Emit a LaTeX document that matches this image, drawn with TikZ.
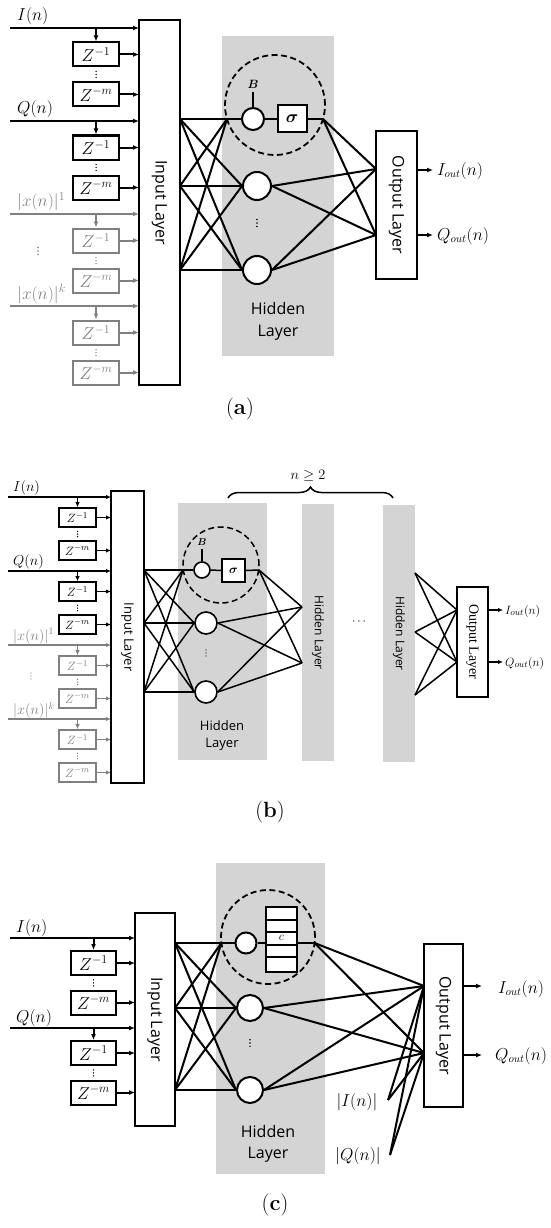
\documentclass[tikz,border=0pt]{standalone}
\usepackage{fontspec}
\newfontfamily\sfl{Open Sans}
\newfontfamily\srl{Liberation Serif}
\usetikzlibrary{arrows.meta,decorations.pathreplacing,calc}
\definecolor{gr}{RGB}{128,128,128}
\definecolor{hid}{RGB}{212,212,212}
\newcommand\fs[1]{\fontsize{#1}{#1}\selectfont}
% vertical dots: coordinate, spacing, radius, colour
\newcommand\vdts[4]{\foreach \k in {-1,0,1}{\fill[#4] ($(#1)+(0,\k*#2)$) circle (#3);}}
% delay group: prefix, line y, colour, label
\newcommand\dgroup[4]{%
  \coordinate (#1s) at (\xs,#2);
  \coordinate (#1e) at (\xin,#2);
  \draw[conn,#3,arr] (#1s) -- (#1e);
  \node[lbl,text=#3,anchor=west] (#1lab) at (\lx,{#2-\lo}) {#4};
  \node[zb,draw=#3,text=#3] (#1a) at ({(\xl+\xr)/2},{#2+(\oA+\oB)/2}) {$Z^{-1}$};
  \node[zb,draw=#3,text=#3] (#1b) at ({(\xl+\xr)/2},{#2+(\oC+\oD)/2}) {$Z^{-m}$};
  \draw[conn,#3,arr] (#1a.north |- #1s) -- (#1a.north);
  \draw[conn,#3,arr] (#1a.east) -- (#1a.east -| #1e);
  \draw[conn,#3,arr] (#1b.east) -- (#1b.east -| #1e);
  \coordinate (#1d) at ($(#1a.south)!0.5!(#1b.north)$);
  \vdts{#1d}{\dsp}{0.75pt}{#3}
}
\begin{document}
\begin{tikzpicture}[x=1pt,y=-1pt,
  lay/.style={draw,rotate=-90,inner sep=0,fill=white},
  neu/.style={circle,draw,fill=white,inner sep=0},
  sig/.style={draw,fill=white,inner sep=0},
  dcirc/.style={circle,draw,dash pattern=on 6pt off 3.5pt,inner sep=0}]
\useasboundingbox (0,0) rectangle (550,1228);

%%%%%%%%%%%%%%%%%%%%%%%% (a)
\begin{scope}[zb/.style={draw,line width=2pt,minimum width=46pt,minimum height=24pt,inner sep=0,fill=white,font=\fs{17}},
  lbl/.style={font=\fs{17},inner sep=0},
  arr/.style={-{Latex[length=6pt,width=5pt]}},
  conn/.style={line width=2pt},
  net/.style={line width=2pt}]
\def\xs{10}\def\xl{72}\def\xr{120}\def\xin{139}\def\oA{13}\def\oB{40}\def\oC{53}\def\oD{80}\def\lo{12}\def\lx{17}\def\dsp{3}
\dgroup{aI}{28}{black}{$I(n)$}
\dgroup{aQ}{121}{black}{$Q(n)$}
\dgroup{aX}{214}{gr}{$|x(n)|^{1}$}
\dgroup{aK}{306}{gr}{$|x(n)|^{k}$}
\coordinate (avd) at (38,251); \vdts{avd}{3.5}{0.8pt}{gr}
\node[lay,line width=2pt,minimum width=365pt,minimum height=41pt,font=\sfl\fs{16}] (ain) at (159.5,202.5) {Input Layer};
\fill[hid] (222,36) rectangle (334,356);
\node[align=center,inner sep=0,font=\sfl\fontsize{16}{22}\selectfont] (ahid) at (278,321) {Hidden\\Layer};
\node[dcirc,line width=1.8pt,minimum size=100pt] (adc) at (275,105) {};
\coordinate (ai1) at (180,119); \coordinate (ai2) at (180,186); \coordinate (ai3) at (180,270);
\coordinate (ah1) at (227,119); \coordinate (ah4) at (323,119);
\node[neu,line width=2pt,minimum size=28pt] (an2) at (257,186) {};
\node[neu,line width=2pt,minimum size=28pt] (an3) at (257,270) {};
\coordinate (adots) at (257,223); \vdts{adots}{3.5}{0.8pt}{black}
\foreach \s in {ai1,ai2,ai3}{\foreach \t in {ah1,an2.west,an3.west}{\draw[net] (\s) -- (\t);}}
\node[neu,line width=2pt,minimum size=22pt] (an1) at (253,119) {};
\coordinate (aBt) at (253,92);
\draw[net] (an1.north) -- (aBt);
\node[inner sep=0,font=\fs{12}\boldmath] (aB) at (253,84) {$B$};
\node[sig,line width=2pt,minimum width=29pt,minimum height=27pt,font=\fs{16}\boldmath] (asg) at (292,119) {$\sigma$};
\draw[net] (ah1) -- (an1.west);
\draw[net] (an1.east) -- (asg.west);
\draw[net] (asg.east) -- (ah4);
\node[lay,line width=2pt,minimum width=148pt,minimum height=41pt,font=\sfl\fs{16}] (aout) at (396.5,205) {Output Layer};
\coordinate (ao1) at (376,169); \coordinate (ao2) at (376,235);
\foreach \s in {ah4,an2.east,an3.east}{\foreach \t in {ao1,ao2}{\draw[net] (\s) -- (\t);}}
\coordinate (aoa) at (417,170); \coordinate (aob) at (433,170);
\coordinate (aoc) at (417,235); \coordinate (aod) at (433,235);
\draw[net,arr] (aoa) -- (aob);
\draw[net,arr] (aoc) -- (aod);
\node[anchor=west,inner sep=0,font=\fs{16}] (aIo) at (437,171) {$I_{out}(n)$};
\node[anchor=west,inner sep=0,font=\fs{16}] (aQo) at (437,236) {$Q_{out}(n)$};
\node[font=\fs{22}] (capa) at (240,409) {(\textbf{a})};
\end{scope}

%%%%%%%%%%%%%%%%%%%%%%%% (b)
\begin{scope}[zb/.style={draw,line width=1.7pt,minimum width=37pt,minimum height=19pt,inner sep=0,fill=white,font=\fs{13}},
  lbl/.style={font=\fs{14},inner sep=0},
  arr/.style={-{Latex[length=5pt,width=4.5pt]}},
  conn/.style={line width=1.7pt},
  net/.style={line width=1.5pt}]
\def\xs{8}\def\xl{58}\def\xr{97}\def\xin{111}\def\oA{10}\def\oB{31}\def\oC{43}\def\oD{64}\def\lo{9}\def\lx{13}\def\dsp{2.6}
\dgroup{bI}{497}{black}{$I(n)$}
\dgroup{bQ}{571}{black}{$Q(n)$}
\dgroup{bX}{645}{gr}{$|x(n)|^{1}$}
\dgroup{bK}{719}{gr}{$|x(n)|^{k}$}
\coordinate (bvd) at (31,676); \vdts{bvd}{3}{0.7pt}{gr}
\node[lay,line width=1.8pt,minimum width=292pt,minimum height=33pt,font=\sfl\fs{13}] (bin) at (127.5,637) {Input Layer};
\fill[hid] (178,503) rectangle (267,760);
\node[align=center,inner sep=0,font=\sfl\fontsize{13}{17}\selectfont] (bhid) at (222,735.5) {Hidden\\Layer};
\node[dcirc,line width=1.5pt,minimum size=76pt] (bdc) at (221,565) {};
\coordinate (bi1) at (144,570); \coordinate (bi2) at (144,623); \coordinate (bi3) at (144,692);
\coordinate (bh1) at (183,570); \coordinate (bh4) at (259,570);
\node[neu,line width=1.6pt,minimum size=22pt] (bn2) at (206,623) {};
\node[neu,line width=1.6pt,minimum size=22pt] (bn3) at (206,692) {};
\coordinate (bdots) at (206,653); \vdts{bdots}{3}{0.7pt}{black}
\foreach \s in {bi1,bi2,bi3}{\foreach \t in {bh1,bn2.west,bn3.west}{\draw[net] (\s) -- (\t);}}
\node[neu,line width=1.6pt,minimum size=16pt] (bn1) at (202,570) {};
\coordinate (bBt) at (202,549);
\draw[net] (bn1.north) -- (bBt);
\node[inner sep=0,font=\fs{10}\boldmath] (bB) at (202,542) {$B$};
\node[sig,line width=1.6pt,minimum width=23pt,minimum height=23pt,font=\fs{13}\boldmath] (bsg) at (233.5,570.5) {$\sigma$};
\draw[net] (bh1) -- (bn1.west);
\draw[net] (bn1.east) -- (bsg.west);
\draw[net] (bsg.east) -- (bh4);
\node[fill=hid,rotate=-90,inner sep=0,minimum width=257pt,minimum height=32pt,font=\sfl\fs{12}] (bhl2) at (318,632.5) {Hidden Layer};
\node[fill=hid,rotate=-90,inner sep=0,minimum width=257pt,minimum height=32pt,font=\sfl\fs{12}] (bhl3) at (399,633.5) {Hidden Layer};
\coordinate (bt1) at (302,607); \coordinate (bt2) at (302,663);
\foreach \s in {bh4,bn2.east,bn3.east}{\foreach \t in {bt1,bt2}{\draw[net] (\s) -- (\t);}}
\node[inner sep=0,font=\fs{13}] (bdd) at (359,622) {$\cdots$};
\coordinate (bbl) at (228,498); \coordinate (bbr) at (393,498);
\draw[line width=1.5pt,decorate,decoration={brace,amplitude=11pt}] (bbl) -- (bbr);
\node[inner sep=0,font=\fs{14}] (bn) at (308,476) {$n \geq 2$};
\coordinate (bs1) at (415,573); \coordinate (bs2) at (415,632); \coordinate (bs3) at (415,695);
\coordinate (bo1) at (457,610); \coordinate (bo2) at (457,662);
\foreach \s in {bs1,bs2,bs3}{\foreach \t in {bo1,bo2}{\draw[net] (\s) -- (\t);}}
\node[lay,line width=1.7pt,minimum width=110pt,minimum height=31pt,font=\srl\fs{14}] (bout) at (472.5,642) {Output Layer};
\coordinate (boa) at (488,610); \coordinate (bob) at (503,610);
\coordinate (boc) at (488,662); \coordinate (bod) at (503,662);
\draw[net,arr] (boa) -- (bob);
\draw[net,arr] (boc) -- (bod);
\node[anchor=west,inner sep=0,font=\fs{13}] (bIo) at (505,611) {$I_{out}(n)$};
\node[anchor=west,inner sep=0,font=\fs{13}] (bQo) at (505,663) {$Q_{out}(n)$};
\node[font=\fs{22}] (capb) at (270,812) {(\textbf{b})};
\end{scope}

%%%%%%%%%%%%%%%%%%%%%%%% (c)
\begin{scope}[zb/.style={draw,line width=2pt,minimum width=45pt,minimum height=24pt,inner sep=0,fill=white,font=\fs{17}},
  lbl/.style={font=\fs{17},inner sep=0},
  arr/.style={-{Latex[length=6pt,width=5pt]}},
  conn/.style={line width=2pt},
  net/.style={line width=2pt}]
\def\xs{10}\def\xl{70}\def\xr{117}\def\xin{135}\def\oA{12}\def\oB{38}\def\oC{51}\def\oD{78}\def\lo{10}\def\lx{16}\def\dsp{3}
\dgroup{cI}{938}{black}{$I(n)$}
\dgroup{cQ}{1028}{black}{$Q(n)$}
\node[lay,line width=2pt,minimum width=213pt,minimum height=40pt,font=\sfl\fs{16}] (cin) at (155,1019.5) {Input Layer};
\fill[hid] (216,863) rectangle (325,1174);
\node[align=center,inner sep=0,font=\sfl\fontsize{16}{21}\selectfont] (chid) at (268,1143.5) {Hidden\\Layer};
\node[dcirc,line width=1.8pt,minimum size=94pt] (cdc) at (268,937) {};
\coordinate (ci1) at (175,943); \coordinate (ci2) at (175,1008); \coordinate (ci3) at (175,1090);
\coordinate (ch1) at (221.4,943); \coordinate (ch4) at (314.6,943);
\node[neu,line width=2pt,minimum size=26pt] (cn2) at (250,1008) {};
\node[neu,line width=2pt,minimum size=26pt] (cn3) at (250,1090) {};
\coordinate (cdots) at (250,1043); \vdts{cdots}{3.3}{0.8pt}{black}
\foreach \s in {ci1,ci2,ci3}{\foreach \t in {ch1,cn2.west,cn3.west}{\draw[net] (\s) -- (\t);}}
\node[neu,line width=2pt,minimum size=21pt] (cn1) at (246,943) {};
\node[sig,line width=2pt,minimum width=31pt,minimum height=65pt] (cmem) at (281.5,939.5) {};
\foreach \yy in {920,932,945,957}{\draw[line width=2pt] (266,\yy) -- (297,\yy);}
\node[inner sep=0,font=\fs{13}] (cc) at (281.5,938) {$c$};
\draw[net] (ch1) -- (cn1.west);
\draw[net] (cn1.east) -- (cmem.west |- cn1.east);
\draw[net] (cmem.east |- ch4) -- (ch4);
\coordinate (co1) at (424,986); \coordinate (co2) at (424,1053);
\coordinate (cv1) at (388,1100); \coordinate (cv2) at (390,1155);
\foreach \s in {ch4,cn2.east,cn3.east,cv1,cv2}{\foreach \t in {co1,co2}{\draw[net] (\s) -- (\t);}}
\node[lay,line width=2pt,minimum width=163pt,minimum height=39pt,font=\sfl\fs{16}] (cout) at (443.5,1025.5) {Output Layer};
\coordinate (coa) at (463,986); \coordinate (cob) at (482,986);
\coordinate (coc) at (463,1055); \coordinate (cod) at (482,1055);
\draw[net,arr] (coa) -- (cob);
\draw[net,arr] (coc) -- (cod);
\node[anchor=west,inner sep=0,font=\fs{16}] (cIo) at (498,989) {$I_{out}(n)$};
\node[anchor=west,inner sep=0,font=\fs{16}] (cQo) at (495,1056) {$Q_{out}(n)$};
\node[inner sep=0,font=\fs{16}] (cIa) at (357,1102) {$|I(n)|$};
\node[inner sep=0,font=\fs{16}] (cQa) at (358,1156) {$|Q(n)|$};
\node[font=\fs{22}] (capc) at (275,1205) {(\textbf{c})};
\end{scope}
\end{tikzpicture}
\end{document}
